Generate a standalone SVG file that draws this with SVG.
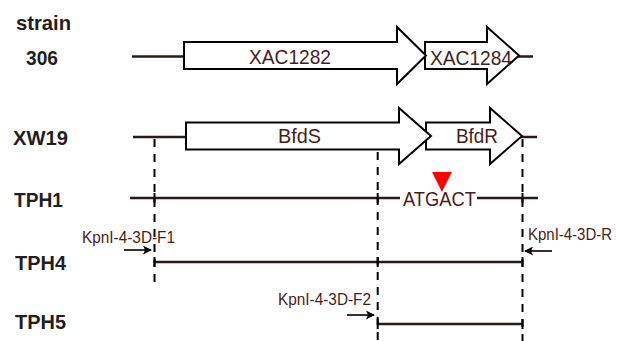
<svg xmlns="http://www.w3.org/2000/svg" width="617" height="341" viewBox="0 0 617 341">
<style>
.lbl{font-family:"Liberation Sans",Arial,sans-serif;font-weight:bold;font-size:21px;fill:#231f20}
.gene{fill:#fff;stroke:#000;stroke-width:2}
.gt{font-family:"Liberation Sans",Arial,sans-serif;font-size:21px;fill:#4a1c1c;text-anchor:start}
.pt{font-family:"Liberation Sans",Arial,sans-serif;font-size:16px;fill:#4a1c1c}
.dna{stroke:#2a1a1a;stroke-width:2.5;fill:none}
.dash{stroke:#000;stroke-width:2;stroke-dasharray:8 7;fill:none}
.tick{stroke:#000;stroke-width:2;fill:none}
.pr{stroke:#000;stroke-width:1.6;fill:none;marker-end:url(#ah)}
</style>
<defs>
<marker id="ah" viewBox="0 0 10 10" refX="9" refY="5" markerWidth="10" markerHeight="9" markerUnits="userSpaceOnUse" orient="auto">
<path d="M0,0 L10,5 L0,10 L2.5,5 z" fill="#000"/>
</marker>
</defs>
<rect width="617" height="341" fill="#fff"/>

<g id="labels">
<text class="lbl" x="16" y="30" textLength="55" lengthAdjust="spacingAndGlyphs">strain</text>
<text class="lbl" x="26" y="65" textLength="32" lengthAdjust="spacingAndGlyphs">306</text>
<text class="lbl" x="13" y="145" textLength="55" lengthAdjust="spacingAndGlyphs">XW19</text>
<text class="lbl" x="14" y="207" textLength="49" lengthAdjust="spacingAndGlyphs">TPH1</text>
<text class="lbl" x="15" y="270" textLength="51" lengthAdjust="spacingAndGlyphs">TPH4</text>
<text class="lbl" x="15" y="329" textLength="51" lengthAdjust="spacingAndGlyphs">TPH5</text>
</g>

<g id="row306">
<line class="dna" x1="132" y1="56.5" x2="185" y2="56.5"/>
<line class="dna" x1="518" y1="56.5" x2="533" y2="56.5"/>
<g id="XAC1284">
<polygon class="gene" points="425,42 487,42 487,27 519,55.5 487,84 487,69 425,69"/>
<text class="gt" x="430" y="65" font-size="22" textLength="82" lengthAdjust="spacingAndGlyphs" style="fill:#3a2626">XAC1284</text>
</g>
<g id="XAC1282">
<polygon class="gene" points="184,42 397,42 397,27 426,55.5 397,84 397,69 184,69"/>
<text class="gt" x="249" y="64" textLength="82" lengthAdjust="spacingAndGlyphs">XAC1282</text>
</g>
</g>

<g id="rowXW19">
<line class="dna" x1="133" y1="137" x2="187" y2="137"/>
<line class="dna" x1="521" y1="137" x2="537" y2="137"/>
<g id="BfdR">
<polygon class="gene" points="426,122.5 490,122.5 490,108 522,136 490,164 490,149.5 426,149.5"/>
<text class="gt" x="456" y="143" font-size="20" textLength="42" lengthAdjust="spacingAndGlyphs">BfdR</text>
</g>
<g id="BfdS">
<polygon class="gene" points="186,122.5 399,122.5 399,108 431,136 399,164 399,149.5 186,149.5"/>
<text class="gt" x="278" y="143" font-size="20" textLength="43" lengthAdjust="spacingAndGlyphs">BfdS</text>
</g>
</g>

<g id="rowTPH1">
<line class="dna" x1="130" y1="198" x2="400" y2="198"/>
<line class="dna" x1="477" y1="198" x2="538" y2="198"/>
<text class="gt" x="403" y="206" font-size="21" textLength="73" lengthAdjust="spacingAndGlyphs">ATGACT</text>
<polygon id="mutation" points="432,172 452,172 442,192" fill="#ff0000"/>
</g>

<g id="rowTPH4">
<line class="dna" x1="154.5" y1="262" x2="522.5" y2="262"/>
</g>

<g id="rowTPH5">
<line class="dna" x1="377.7" y1="324" x2="522.5" y2="324"/>
</g>

<g id="connectors">
<line class="dash" x1="154.5" y1="139" x2="154.5" y2="282"/>
<line class="dash" x1="377.7" y1="152" x2="377.7" y2="341"/>
<line class="dash" x1="522.5" y1="139" x2="522.5" y2="341"/>
<line class="tick" x1="154.5" y1="193" x2="154.5" y2="203"/>
<line class="tick" x1="377.7" y1="193" x2="377.7" y2="203"/>
<line class="tick" x1="522.5" y1="193" x2="522.5" y2="203"/>
<line class="tick" x1="154.5" y1="257" x2="154.5" y2="267"/>
<line class="tick" x1="377.7" y1="257" x2="377.7" y2="267"/>
<line class="tick" x1="522.5" y1="257" x2="522.5" y2="267"/>
<line class="tick" x1="377.7" y1="319" x2="377.7" y2="329"/>
<line class="tick" x1="522.5" y1="319" x2="522.5" y2="329"/>
<line class="pr" x1="124" y1="250" x2="151" y2="250"/>
<line class="pr" x1="552" y1="251" x2="525" y2="251"/>
<line class="pr" x1="347" y1="315" x2="374" y2="315"/>
</g>

<g id="primers">
<text class="pt" x="82" y="243" textLength="93" lengthAdjust="spacingAndGlyphs">KpnI-4-3D-F1</text>
<text class="pt" x="528" y="240" textLength="84" lengthAdjust="spacingAndGlyphs">KpnI-4-3D-R</text>
<text class="pt" x="278" y="305" textLength="93" lengthAdjust="spacingAndGlyphs">KpnI-4-3D-F2</text>
</g>
</svg>
